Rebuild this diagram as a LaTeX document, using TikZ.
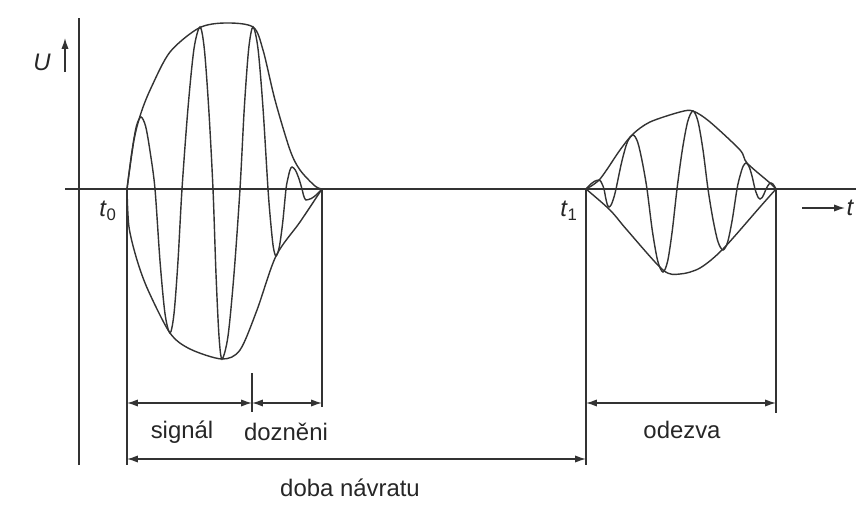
\documentclass[tikz,border=0pt]{standalone}
\usepackage{fontspec}
\setmainfont{Liberation Sans}
\usepackage{tikz}
\usetikzlibrary{arrows.meta,positioning,calc}
\tikzset{
  axisline/.style={line width=1pt,draw=black!80},
  waveline/.style={line width=1pt,draw=black!80,smooth,tension=0.5},
  dimarrow/.style={{Latex[length=2.7mm,width=1.8mm]}-{Latex[length=2.7mm,width=1.8mm]},
    line width=1pt,draw=black!80},
  tiparrow/.style={-{Latex[length=2.7mm,width=1.8mm]},line width=1pt,draw=black!80},
  lbl/.style={font=\fontsize{17}{20}\selectfont,text=black!85,inner sep=1pt},
}

\begin{document}
\begin{tikzpicture}[x=0.025cm,y=-0.025cm]
  \useasboundingbox (0,0) rectangle (856,513);

  % axes
  \coordinate (ytop) at (79,18);
  \coordinate (ybot) at (79,465);
  \coordinate (xleft) at (65,189);
  \coordinate (xright) at (856,189);
  \draw[axisline] (ybot) -- (ytop);
  \draw[axisline] (xleft) -- (xright);

  % axis labels
  \node[lbl,font=\fontsize{17}{20}\selectfont\itshape] (ulbl) at (42,62) {U};
  \coordinate (ua) at (65,72);
  \coordinate (ub) at (65,38);
  \draw[tiparrow] (ua) -- (ub);
  \node[lbl,font=\fontsize{17}{20}\selectfont\itshape] (tlbl) at (850,208) {t};
  \coordinate (ta) at (802,208);
  \draw[tiparrow] (ta) -- (tlbl.west);
  \node[lbl] (t0lbl) at (108,211) {\textit{t}\textsubscript{0}};
  \node[lbl] (t1lbl) at (569,211) {\textit{t}\textsubscript{1}};

  % time marks
  \coordinate (t0) at (127,189);
  \coordinate (send) at (322,189);
  \coordinate (t1) at (586,189);
  \coordinate (eend) at (776,189);
  \coordinate (t0b) at (127,465);
  \coordinate (sendb) at (322,407);
  \coordinate (t1b) at (586,465);
  \coordinate (eendb) at (776,413);
  \coordinate (ticka) at (252,373);
  \coordinate (tickb) at (252,412);
  \draw[axisline] (t0) -- (t0b);
  \draw[axisline] (send) -- (sendb);
  \draw[axisline] (t1) -- (t1b);
  \draw[axisline] (eend) -- (eendb);
  \draw[axisline] (ticka) -- (tickb);

  % signal burst
  \draw[waveline] plot coordinates {(127,189) (134,140) (141,113) (151,88)
    (170,52) (199,28) (225,23) (253,27) (263,50) (275,100) (290,150)
    (300,170) (315,186) (322,189)};
  \draw[waveline] plot coordinates {(127,189) (129,227) (137,260) (148,290)
    (170,333) (190,349) (222,359) (240,350) (257,310) (276,256) (300,222)
    (322,189)};
  \draw[waveline] plot coordinates {(127,189) (131.7,153) (136.3,126.6)
    (141,117) (145.7,126.6) (150.3,153) (155,189)
    (160,261) (165,313.7) (170,333) (174,313.7) (178,261) (182,189)
    (188,108) (194,48.7) (200,27) (204.3,48.7) (208.7,108) (213,189)
    (216,274) (219,336.2) (222,359) (228,336.2) (234,274) (240,189)
    (244.3,108) (248.7,48.7) (253,27) (258,48.7) (263,108) (268,189)
    (270.7,222.5) (273.3,247) (276,256) (279.3,247) (282.7,222.5) (286,189)
    (288,178) (290,170) (292,167) (295.3,170) (298.7,178) (302,189)
    (303.3,194.5) (304.7,198.5) (306,200) (311.3,198.5) (316.7,194.5)
    (322,189)};

  % echo burst
  \draw[waveline] plot coordinates {(586,189) (600,179) (620,150) (633,134)
    (650,122) (680,112) (693,111) (710,122) (740,150) (747,163) (770,183)
    (776,189)};
  \draw[waveline] plot coordinates {(586,189) (610,210) (627,230) (663,270)
    (680,274) (700,268) (723,249) (760,207) (776,189)};
  \draw[waveline] plot coordinates {(586,189) (590.3,184.5) (594.7,181.2)
    (599,180) (600.7,181.2) (602.3,184.5) (604,189)
    (605.7,198) (607.3,204.6) (609,207) (611.3,204.6) (613.7,198) (616,189)
    (621.7,162) (627.3,142.2) (633,135) (637.7,142.2) (642.3,162) (647,189)
    (652.3,230.5) (657.7,260.9) (663,272) (667.7,260.9) (672.3,230.5) (677,189)
    (682.3,150) (687.7,121.5) (693,111) (698,121.5) (703,150) (708,189)
    (713,219.5) (718,241.8) (723,250) (727.7,241.8) (732.3,219.5) (737,189)
    (740,176) (743,166.5) (746,163) (749,166.5) (752,176) (755,189)
    (756.7,194) (758.3,197.7) (760,199) (762,197.7) (764,194) (766,189)
    (767.7,186) (769.3,183.8) (771,183) (772.7,183.8) (774.3,186) (776,189)};

  % dimension lines
  \coordinate (sigl) at (127,403);
  \coordinate (sigm) at (252,403);
  \coordinate (sigr) at (322,403);
  \coordinate (odl) at (586,403);
  \coordinate (odr) at (776,403);
  \coordinate (dbl) at (127,459);
  \coordinate (dbr) at (586,459);
  \draw[dimarrow] (sigl) -- (sigm);
  \draw[dimarrow] (sigm) -- (sigr);
  \draw[dimarrow] (odl) -- (odr);
  \draw[dimarrow] (dbl) -- (dbr);

  % labels
  \node[lbl] (siglbl) at (182,432) {signál};
  \node[lbl] (dozlbl) at (286,432) {dozněni};
  \node[lbl] (odlbl) at (682,430) {odezva};
  \node[lbl] (dblbl) at (350,488) {doba návratu};

\end{tikzpicture}
\end{document}
